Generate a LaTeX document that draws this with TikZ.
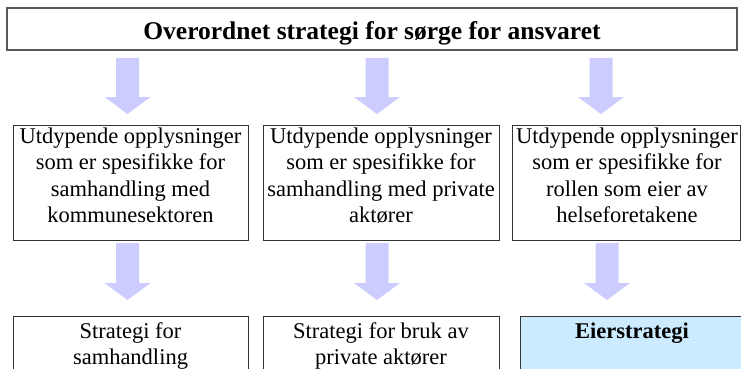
\documentclass[tikz,border=0pt]{standalone}
\usepackage{fontspec}
\setmainfont{Liberation Serif}
\definecolor{arrowfill}{HTML}{CCCCFF}
\definecolor{bluefill}{HTML}{CCEBFF}
\definecolor{edge}{HTML}{333333}
\newcommand{\blockarrow}[5]{% name, x, ytop, ybase, ytip
  \path[fill=arrowfill] (#2-11.5,#3) -- (#2+11.5,#3) -- (#2+11.5,#4) -- (#2+23,#4)
     -- (#2,#5) -- (#2-23,#4) -- (#2-11.5,#4) -- cycle;
  \coordinate (#1) at (#2,#5);}
\begin{document}
\begin{tikzpicture}[x=1pt,y=-1pt,
  boxstyle/.style={draw=edge, line width=1pt},
  titlebox/.style={draw=black!65, line width=1.6pt},
  txt/.style={font=\fontsize{22.5}{26.3}\selectfont, align=center, inner sep=0pt, anchor=base},
  ttl/.style={font=\fontsize{25.5}{30}\selectfont\bfseries, inner sep=0pt, anchor=base}]
\useasboundingbox (0,0) rectangle (741,369);
\clip (0,0) rectangle (741,369);
% top box
\draw[titlebox] (7,8) rectangle (737,50);
\node[ttl] (title) at (372,40) {Overordnet strategi for sørge for ansvaret};
% row 1 arrows
\blockarrow{a1}{127.5}{58}{97}{114}
\blockarrow{a2}{377}{58}{97}{114}
\blockarrow{a3}{601}{58}{97}{114}
% middle boxes
\draw[boxstyle] (13,125) rectangle (248,240);
\draw[boxstyle] (263,125) rectangle (499,240);
\draw[boxstyle] (512,125) rectangle (740,240);
% multi-line nodes: base anchor = last line baseline
\node[txt] (m1) at (130.5,222.5) {Utdypende opplysninger\\som er spesifikke for\\samhandling med\\kommunesektoren};
\node[txt] (m2) at (381,222.5) {Utdypende opplysninger\\som er spesifikke for\\samhandling med private\\aktører};
\node[txt] (m3) at (627,222.5) {Utdypende opplysninger\\som er spesifikke for\\rollen som eier av\\helseforetakene};
% row 2 arrows
\blockarrow{b1}{127.5}{243}{283}{300}
\blockarrow{b2}{377}{243}{283}{300}
\blockarrow{b3}{607}{243}{283}{300}
% bottom boxes
\draw[boxstyle] (13,316) rectangle (248,380);
\draw[boxstyle] (263,316) rectangle (499,380);
\draw[boxstyle, fill=bluefill] (520,316) rectangle (760,380);
\node[txt] (s1) at (130.5,364.3) {Strategi for\\samhandling};
\node[txt] (s2) at (381,364.3) {Strategi for bruk av\\private aktører};
\node[txt, font=\fontsize{22.5}{26.3}\selectfont\bfseries] (s3) at (632,338) {Eierstrategi};
\end{tikzpicture}
\end{document}
